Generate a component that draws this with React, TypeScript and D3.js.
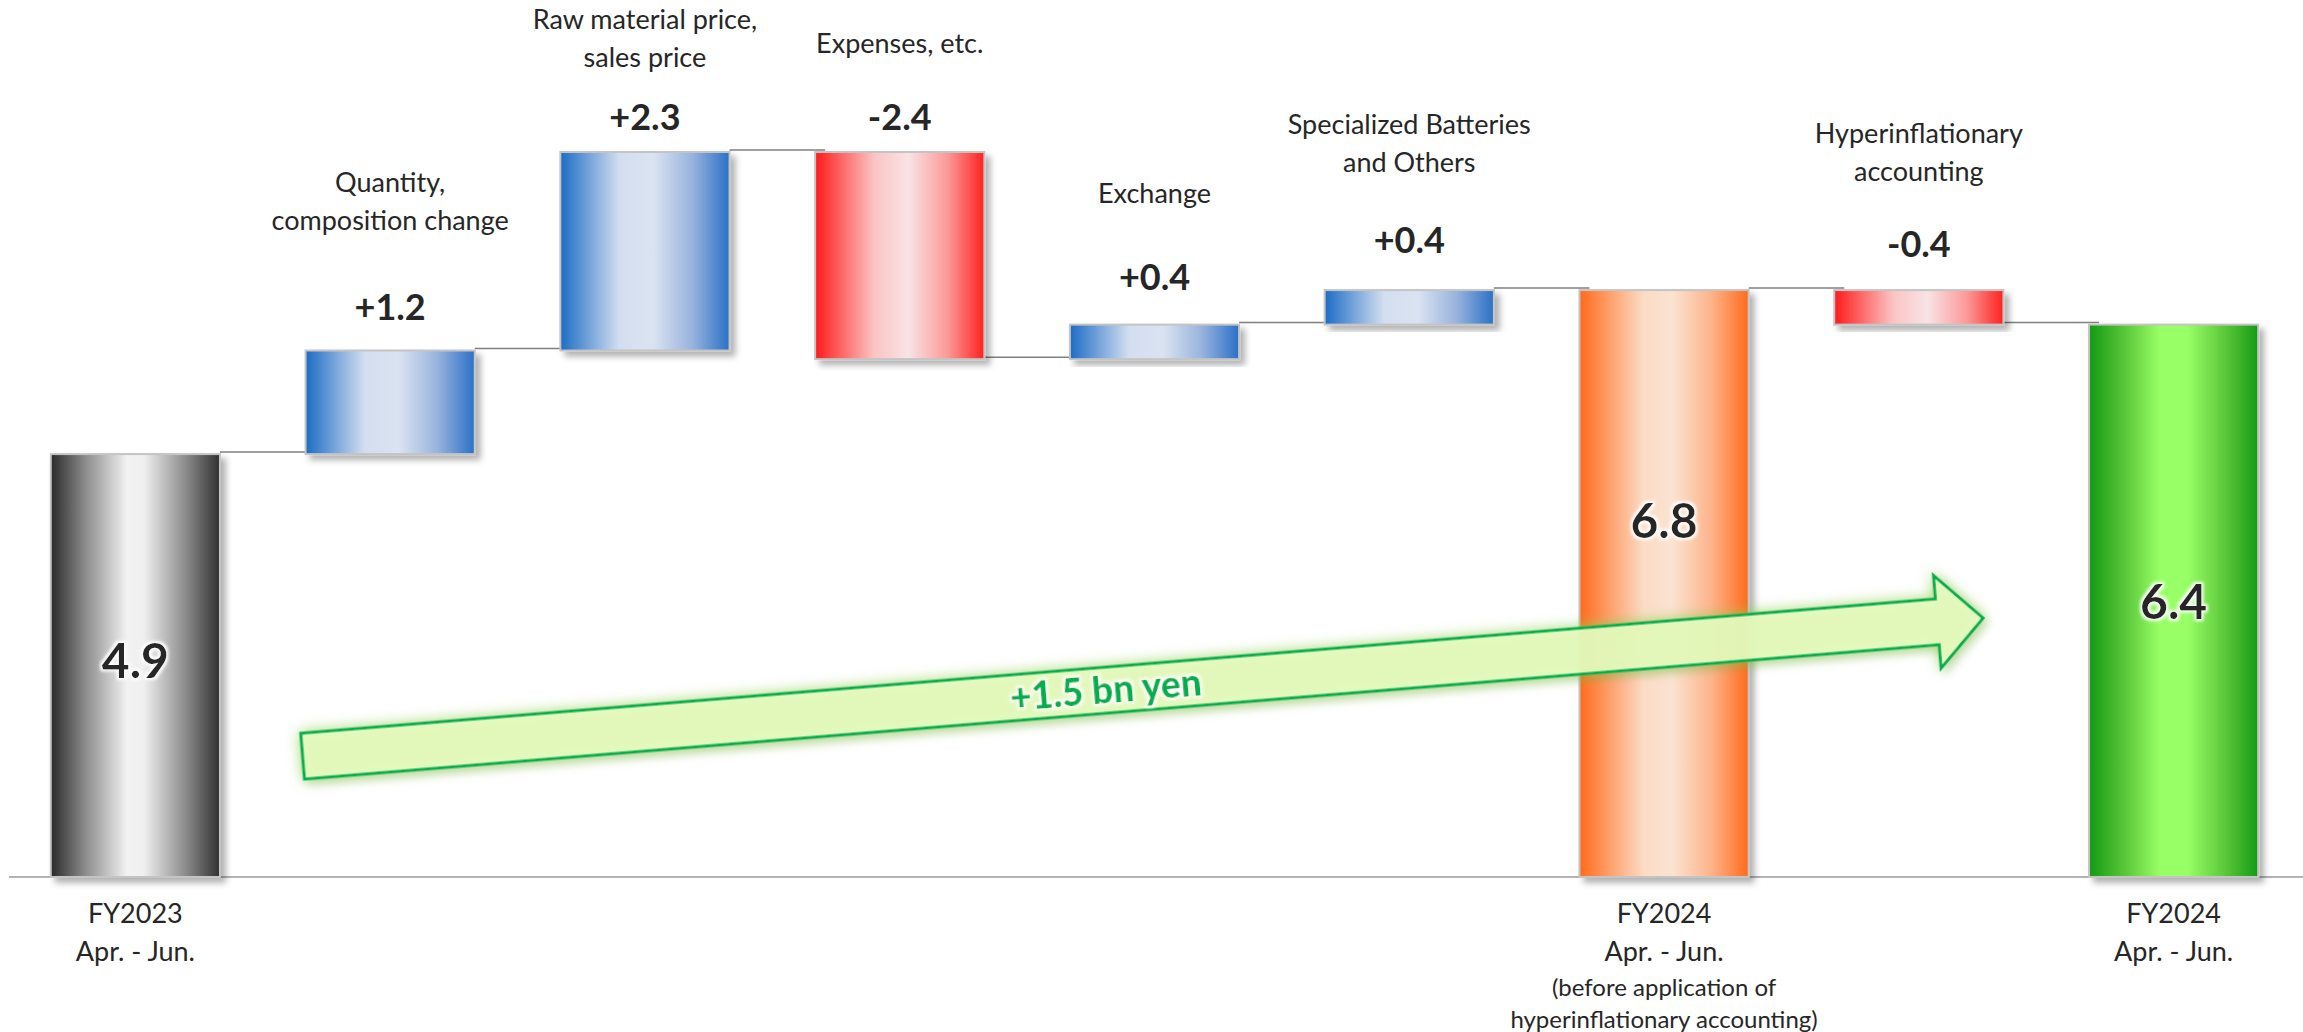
import React from "react";
import * as d3 from "d3";

// ---- data ----
const steps = [
  "FY2023",
  "Quantity",
  "RawMaterial",
  "Expenses",
  "Exchange",
  "Specialized",
  "FY2024Before",
  "Hyperinflation",
  "FY2024",
];
const kinds = ["total", "delta", "delta", "delta", "delta", "delta", "total", "delta", "total"];
const values = [4.9, 1.2, 2.3, -2.4, 0.4, 0.4, 6.8, -0.4, 6.4];
const valueLabels = ["4.9", "+1.2", "+2.3", "-2.4", "+0.4", "+0.4", "6.8", "-0.4", "6.4"];
const topLabels: string[][] = [
  [],
  ["Quantity,", "composition change"],
  ["Raw material price,", "sales price"],
  ["Expenses, etc."],
  ["Exchange"],
  ["Specialized Batteries", "and Others"],
  [],
  ["Hyperinflationary", "accounting"],
  [],
];
const bottomLabels: string[][] = [
  ["FY2023", "Apr. - Jun."],
  [],
  [],
  [],
  [],
  [],
  ["FY2024", "Apr. - Jun.", "(before application of", "hyperinflationary accounting)"],
  [],
  ["FY2024", "Apr. - Jun."],
];
const totalTones = ["gray", "", "", "", "", "", "orange", "", "green"];
const changeLabel = "+1.5 bn yen";

// ---- layout ----
const W = 2303;
const H = 1032;
const baseY = 877;
const topY = 152;
const valueGap = [0, 31, 22, 22, 35, 37, 0, 33, 0];
const catGap = [0, 90, 63, 77, 87, 81, 0, 76, 0];
const innerShift = [12, 0, 0, 0, 0, 0, -46, 0, 18];
const bottomLines = [46, 84, 119, 151];
const bottomSizes = [27, 27, 24, 24];

const tones: Record<string, string[][]> = {
  gray: [["0%", "#2a2a2a"], ["20%", "#8a8a8a"], ["45%", "#f2f2f2"], ["55%", "#efefef"], ["80%", "#8a8a8a"], ["100%", "#303030"]],
  blue: [["0%", "#1c6cc4"], ["35%", "#d3def0"], ["55%", "#dae3f1"], ["78%", "#98b3dd"], ["100%", "#2a70c6"]],
  red: [["0%", "#ff1a1a"], ["35%", "#fbc4c4"], ["55%", "#f8e3e5"], ["78%", "#fc9a9a"], ["100%", "#ff2020"]],
  orange: [["0%", "#ff6a1a"], ["38%", "#fbdcc6"], ["55%", "#fbe3d2"], ["78%", "#fdb38a"], ["100%", "#ff6a1a"]],
  green: [["0%", "#149a14"], ["22%", "#5cc83a"], ["42%", "#99ff66"], ["58%", "#99ff66"], ["80%", "#5cc83a"], ["100%", "#169a16"]],
};

const FONT = "Lato, 'Open Sans', sans-serif";

export default function App() {
  const x = d3
    .scaleBand<string>()
    .domain(steps)
    .range([8, W - 2])
    .paddingInner(0.336)
    .paddingOuter(0.168);
  const y = d3.scaleLinear().domain([0, 8.4]).range([baseY, topY]);
  const bw = x.bandwidth();

  // running waterfall
  let run = 0;
  const bars = values.map((v, i) => {
    let lo: number, hi: number, level: number;
    if (kinds[i] === "total") {
      lo = 0;
      hi = v;
      level = v;
    } else {
      lo = Math.min(run, run + v);
      hi = Math.max(run, run + v);
      level = run + v;
    }
    run = level;
    const tone = kinds[i] === "total" ? totalTones[i] : v >= 0 ? "blue" : "red";
    return { id: steps[i], i, lo, hi, level, tone, x0: x(steps[i])!, cx: x(steps[i])! + bw / 2 };
  });

  // arrow annotation (in data terms: from quantity band, level 1.4, to the hyperinflation band, level 3.0)
  const sx = x("Quantity")! - 3;
  const sy = y(1.4);
  const ex = x("Hyperinflation")! + bw * 0.88;
  const ey = y(3.0);
  const ang = (Math.atan2(ey - sy, ex - sx) * 180) / Math.PI;
  const L = Math.hypot(ex - sx, ey - sy);
  const shaftH = 23;
  const headH = 46.5;
  const headL = 46;
  const arrowPath = d3.path();
  arrowPath.moveTo(0, -shaftH);
  arrowPath.lineTo(L - headL, -shaftH);
  arrowPath.lineTo(L - headL, -headH);
  arrowPath.lineTo(L, 0);
  arrowPath.lineTo(L - headL, headH);
  arrowPath.lineTo(L - headL, shaftH);
  arrowPath.lineTo(0, shaftH);
  arrowPath.closePath();

  return (
    <svg
      width={W}
      height={H}
      style={{ position: "absolute", left: 0, top: 0, background: "#fff" }}
      fontFamily={FONT}
    >
      <defs>
        {Object.entries(tones).map(([k, stops]) => (
          <linearGradient key={k} id={`g-${k}`} x1="0" x2="1" y1="0" y2="0">
            {stops.map(([o, c]) => (
              <stop key={o} offset={o} stopColor={c} />
            ))}
          </linearGradient>
        ))}
        <filter id="shadow" x="-20%" y="-20%" width="140%" height="140%">
          <feDropShadow dx="5" dy="5" stdDeviation="3" floodColor="#000" floodOpacity="0.3" />
        </filter>
        <filter id="glow" x="-10%" y="-200%" width="120%" height="500%">
          <feGaussianBlur in="SourceAlpha" stdDeviation="7" result="b" />
          <feFlood floodColor="#8fd14f" floodOpacity="0.85" />
          <feComposite in2="b" operator="in" result="g" />
          <feOffset in="SourceAlpha" dx="4" dy="5" result="so" />
          <feGaussianBlur in="so" stdDeviation="4" result="sb" />
          <feFlood floodColor="#000" floodOpacity="0.18" />
          <feComposite in2="sb" operator="in" result="s" />
          <feMerge>
            <feMergeNode in="s" />
            <feMergeNode in="g" />
            <feMergeNode in="SourceGraphic" />
          </feMerge>
        </filter>
        <filter id="halo" x="-20%" y="-30%" width="140%" height="160%">
          <feMorphology in="SourceAlpha" operator="dilate" radius="2" result="d" />
          <feGaussianBlur in="d" stdDeviation="1.5" result="db" />
          <feFlood floodColor="#fff" floodOpacity="0.95" />
          <feComposite in2="db" operator="in" result="w" />
          <feMerge>
            <feMergeNode in="w" />
            <feMergeNode in="SourceGraphic" />
          </feMerge>
        </filter>
      </defs>

      {/* connectors */}
      <g stroke="#808080" strokeWidth={1.5}>
        {bars.slice(0, -1).map((b) => (
          <line
            key={b.id}
            x1={b.x0 + bw}
            x2={bars[b.i + 1].x0 + 10}
            y1={y(b.level) - 2}
            y2={y(b.level) - 2}
          />
        ))}
      </g>

      {/* axis line */}
      <line x1={9} x2={W} y1={baseY} y2={baseY} stroke="#9a9a9a" strokeWidth={1.5} />

      {/* bars */}
      <g>
        {bars.map((b) => (
          <rect
            key={b.id}
            x={b.x0}
            y={y(b.hi)}
            width={bw}
            height={y(b.lo) - y(b.hi)}
            fill={`url(#g-${b.tone})`}
            stroke="#c4c4c4"
            strokeWidth={2}
            filter="url(#shadow)"
          />
        ))}
      </g>

      {/* delta value labels + category labels */}
      <g textAnchor="middle" fill="#262626">
        {bars
          .filter((b) => kinds[b.i] === "delta")
          .map((b) => {
            const vy = y(b.hi) - valueGap[b.i];
            const lines = topLabels[b.i];
            const lastY = vy - catGap[b.i];
            return (
              <g key={b.id}>
                <text x={b.cx} y={vy} fontSize={36} fontWeight={700}>
                  {valueLabels[b.i]}
                </text>
                {lines.map((t, k) => (
                  <text key={k} x={b.cx} y={lastY - (lines.length - 1 - k) * 38} fontSize={27}>
                    {t}
                  </text>
                ))}
              </g>
            );
          })}
      </g>

      {/* arrow */}
      <g transform={`translate(${sx},${sy}) rotate(${ang})`}>
        <path
          d={arrowPath.toString()}
          fill="#e8fcc0"
          fillOpacity={0.88}
          stroke="#00b050"
          strokeWidth={3}
          strokeLinejoin="miter"
          filter="url(#glow)"
        />
        <text
          x={806}
          y={13}
          textAnchor="middle"
          fontSize={37}
          fontWeight={900}
          fill="#00b050"
          filter="url(#halo)"
        >
          {changeLabel}
        </text>
      </g>

      {/* total labels inside bars */}
      <g textAnchor="middle" fill="#262626">
        {bars
          .filter((b) => kinds[b.i] === "total")
          .map((b) => (
            <text
              key={b.id}
              x={b.cx}
              y={(y(b.hi) + y(b.lo)) / 2 + innerShift[b.i]}
              fontSize={48}
              fontWeight={700}
              filter="url(#halo)"
            >
              {valueLabels[b.i]}
            </text>
          ))}
      </g>

      {/* bottom labels */}
      <g textAnchor="middle" fill="#262626">
        {bars.map((b) =>
          bottomLabels[b.i].map((t, k) => (
            <text key={`${b.id}-${k}`} x={b.cx} y={baseY + bottomLines[k]} fontSize={bottomSizes[k]}>
              {t}
            </text>
          ))
        )}
      </g>
    </svg>
  );
}
